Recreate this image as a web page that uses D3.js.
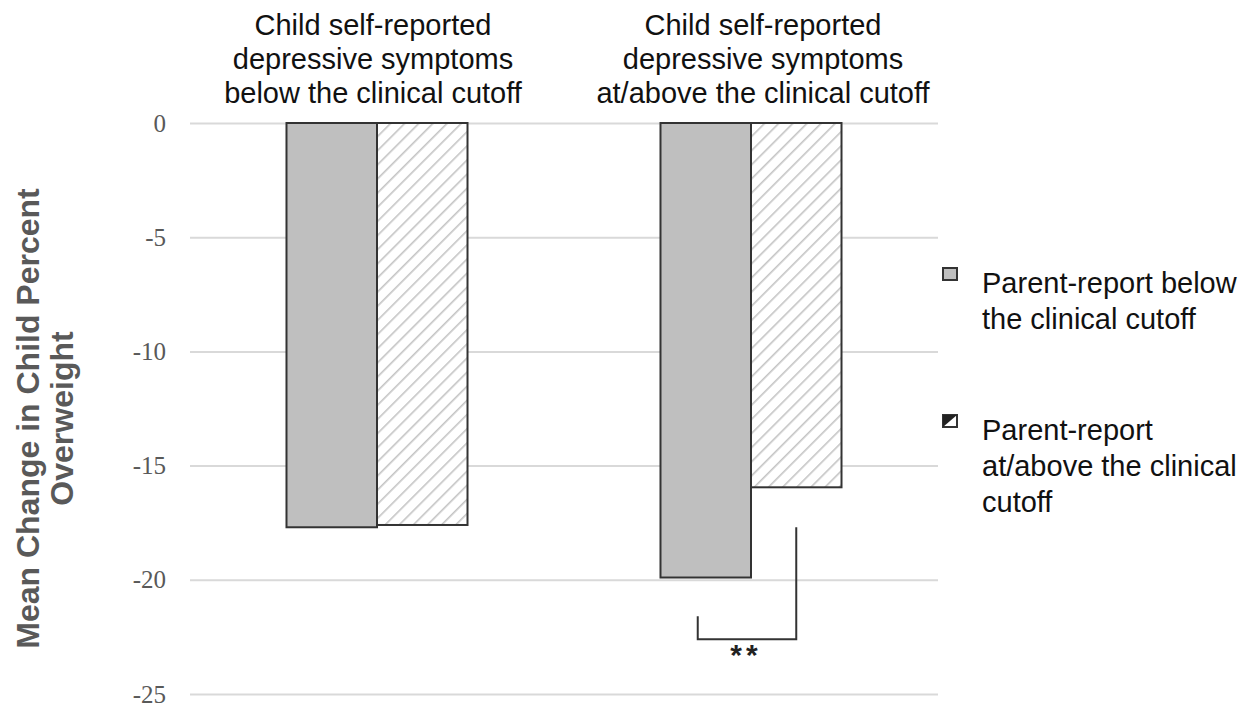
<!DOCTYPE html>
<html>
<head>
<meta charset="utf-8">
<script src="https://cdn.jsdelivr.net/npm/d3@7"></script>
<style>
  html, body { margin: 0; padding: 0; background: #fff; }
  svg { display: block; }
</style>
</head>
<body>
<svg id="chart" width="1253" height="709"></svg>
<script>
// ---- Data ----
const categories = [
  ["Child self-reported", "depressive symptoms", "below the clinical cutoff"],
  ["Child self-reported", "depressive symptoms", "at/above the clinical cutoff"]
];
const categoryKeys = ["below", "above"];
const seriesNames = ["Parent-report below the clinical cutoff", "Parent-report at/above the clinical cutoff"];
const seriesKeys = ["parentBelow", "parentAbove"];
const parentBelowValues = [-17.7, -19.9];
const parentAboveValues = [-17.6, -15.95];
const yTicks = [0, -5, -10, -15, -20, -25];
const legendLines = [
  ["Parent-report below", "the clinical cutoff"],
  ["Parent-report", "at/above the clinical", "cutoff"]
];
const yTitleLines = ["Mean Change in Child Percent", "Overweight"];
// significance bracket (group 2): left leg top, bottom, right leg top
const bracketValues = { leftTop: -21.6, bottom: -22.6, rightTop: -17.7 };
const sigLabel = "**";

// ---- Layout ----
const svg = d3.select("#chart");
const plotLeft = 190, plotRight = 938, plotTop = 123, plotBottom = 694;
const labelShift = [-4, 12];

const y = d3.scaleLinear().domain([-25, 0]).range([plotBottom, plotTop]);
const x0 = d3.scaleBand().domain(categoryKeys).range([plotLeft, plotRight])
  .paddingInner(0.516).paddingOuter(0.258);
const x1 = d3.scaleBand().domain(seriesKeys).range([0, x0.bandwidth()]).padding(0);

// Hatch pattern
const defs = svg.append("defs");
const pat = defs.append("pattern").attr("id", "hatch")
  .attr("patternUnits", "userSpaceOnUse").attr("width", 10).attr("height", 10)
  .attr("patternTransform", "rotate(45)");
pat.append("rect").attr("width", 10).attr("height", 10).attr("fill", "#fff");
pat.append("line").attr("x1", 0).attr("y1", 0).attr("x2", 0).attr("y2", 10)
  .attr("stroke", "#c4c4c4").attr("stroke-width", 3.2);

// Gridlines + tick labels
const axis = d3.axisLeft(y).tickValues(yTicks).tickSizeInner(-(plotRight - plotLeft))
  .tickSizeOuter(0).tickPadding(24).tickFormat(d => String(d));
const gAxis = svg.append("g").attr("transform", `translate(${plotLeft},0)`).call(axis);
gAxis.select(".domain").remove();
gAxis.selectAll(".tick line").attr("stroke", "#d9d9d9").attr("stroke-width", 2);
gAxis.selectAll(".tick text")
  .attr("font-family", "'Liberation Serif', 'Times New Roman', serif")
  .attr("font-size", 25).attr("fill", "#595959");

// Bars
const rows = categoryKeys.map((c, i) => ({
  key: c,
  vals: [
    { s: "parentBelow", v: parentBelowValues[i] },
    { s: "parentAbove", v: parentAboveValues[i] }
  ]
}));
const groups = svg.append("g").selectAll("g").data(rows).join("g")
  .attr("transform", d => `translate(${x0(d.key)},0)`);
groups.selectAll("rect").data(d => d.vals).join("rect")
  .attr("x", d => x1(d.s))
  .attr("y", d => y(0))
  .attr("width", x1.bandwidth())
  .attr("height", d => y(d.v) - y(0))
  .attr("fill", d => d.s === "parentBelow" ? "#bfbfbf" : "url(#hatch)")
  .attr("stroke", "#333")
  .attr("stroke-width", 2);

// Category labels
const catText = svg.append("g").selectAll("text").data(categoryKeys).join("text")
  .attr("y", 35)
  .attr("text-anchor", "middle")
  .attr("font-family", "'Liberation Sans', Arial, sans-serif")
  .attr("font-size", 29)
  .attr("fill", "#111");
catText.each(function (d, i) {
  const t = d3.select(this);
  const cx = x0(d) + x0.bandwidth() / 2 + labelShift[i];
  categories[i].forEach((line, j) => {
    t.append("tspan").attr("x", cx)
      .attr("dy", j === 0 ? 0 : 34).text(line);
  });
});

// Y-axis title
const yTitle = svg.append("text")
  .attr("transform", `translate(0,${(plotTop + plotBottom) / 2 + 10}) rotate(-90)`)
  .attr("text-anchor", "middle")
  .attr("font-family", "'Liberation Sans', Arial, sans-serif")
  .attr("font-weight", "bold")
  .attr("font-size", 32)
  .attr("fill", "#595959");
yTitleLines.forEach((line, j) => {
  yTitle.append("tspan").attr("x", 0).attr("y", 39 + j * 34).text(line);
});

// Significance bracket
const g2 = categoryKeys[1];
const xl = x0(g2) + x1("parentBelow") + x1.bandwidth() / 2 - 8;
const xr = x0(g2) + x1("parentAbove") + x1.bandwidth() / 2;
svg.append("path")
  .attr("d", d3.line()([
    [xl, y(bracketValues.leftTop)],
    [xl, y(bracketValues.bottom)],
    [xr, y(bracketValues.bottom)],
    [xr, y(bracketValues.rightTop)]
  ]))
  .attr("fill", "none").attr("stroke", "#333").attr("stroke-width", 2);
svg.append("text")
  .attr("x", (xl + xr) / 2 - 1)
  .attr("y", y(bracketValues.bottom) + 26)
  .attr("text-anchor", "middle")
  .attr("font-family", "'Liberation Sans', Arial, sans-serif")
  .attr("font-weight", "bold")
  .attr("font-size", 30)
  .attr("letter-spacing", 4)
  .attr("fill", "#222")
  .text(sigLabel);

// Legend
const legendTops = [268, 415];
const lg = svg.append("g");
legendLines.forEach((lines, i) => {
  const top = legendTops[i];
  const item = lg.append("g");
  item.append("rect").attr("x", 943).attr("y", top).attr("width", 14).attr("height", 12)
    .attr("fill", i === 0 ? "#bfbfbf" : "#fff").attr("stroke", "#333").attr("stroke-width", 2);
  if (i === 1) {
    item.append("path")
      .attr("d", `M943,${top}L957,${top}L943,${top + 12}Z`)
      .attr("fill", "#222");
  }
  const t = item.append("text")
    .attr("font-family", "'Liberation Sans', Arial, sans-serif")
    .attr("font-size", 29).attr("fill", "#111");
  lines.forEach((line, j) => {
    t.append("tspan").attr("x", 982).attr("y", top + 25 + j * 36).text(line);
  });
});
</script>
</body>
</html>
